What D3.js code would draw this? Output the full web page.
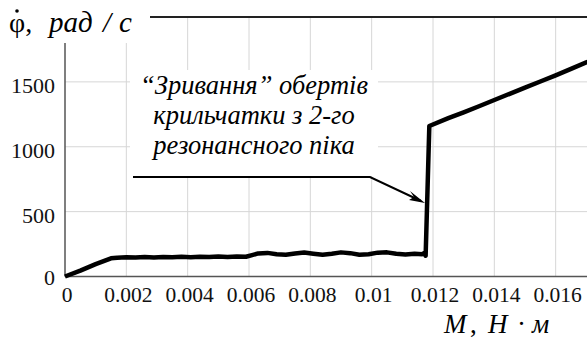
<!DOCTYPE html>
<html>
<head>
<meta charset="utf-8">
<script src="https://cdn.jsdelivr.net/npm/d3@7"></script>
</head>
<body style="margin:0">
<div id="chart"></div>
<script>
// Data
var torque = [0, 0.0005, 0.001, 0.0015, 0.0017, 0.002, 0.0023, 0.0026, 0.0029, 0.0032,
  0.0035, 0.0038, 0.0041, 0.0044, 0.0047, 0.005, 0.0053, 0.0056, 0.0059, 0.0061,
  0.0063, 0.0066, 0.0069, 0.0072, 0.0075, 0.0078, 0.0081, 0.0084, 0.0087, 0.009,
  0.0093, 0.0096, 0.0099, 0.0102, 0.0105, 0.0108, 0.0111, 0.0114, 0.01165, 0.01172,
  0.01176, 0.01188, 0.0125, 0.013, 0.0135, 0.014, 0.0145, 0.015, 0.0155, 0.016,
  0.0165, 0.017, 0.0172];
var speed = [0, 45, 95, 140, 145, 148, 146, 150, 147, 151,
  148, 152, 149, 153, 150, 154, 151, 155, 152, 165,
  178, 182, 172, 168, 178, 185, 176, 168, 176, 186,
  180, 168, 172, 184, 186, 175, 170, 176, 172, 182,
  160, 1160, 1220, 1265, 1312, 1360, 1408, 1455, 1503, 1550,
  1600, 1650, 1668];

var xTicks = [0, 0.002, 0.004, 0.006, 0.008, 0.01, 0.012, 0.014, 0.016];
var xTickLabels = ["0", "0.002", "0.004", "0.006", "0.008", "0.01", "0.012", "0.014", "0.016"];
var yTicks = [0, 500, 1000, 1500];
var yTickLabels = ["0", "500", "1000", "1500"];
var noteLines = ["“Зривання” обертів", "крильчатки з 2-го", "резонансного піка"];

var width = 587;
var height = 350;
var serifFont = "'Liberation Serif'";

var svg = d3
  .select("#chart")
  .append("svg")
  .attr("width", width)
  .attr("height", height)
  .style("display", "block");

// Plot runs off the right edge of the picture
var xScale = d3.scaleLinear().domain([0, 0.018]).range([65, 617]);
var yScale = d3.scaleLinear().domain([0, 2000]).range([276.5, 17]);

// Grid lines
svg.append("g")
  .selectAll("line")
  .data(xTicks.slice(1))
  .enter()
  .append("line")
  .attr("x1", function(d) { return xScale(d); })
  .attr("x2", function(d) { return xScale(d); })
  .attr("y1", yScale(2000))
  .attr("y2", yScale(0))
  .attr("stroke", "#d6d6d6")
  .attr("stroke-width", 1);

svg.append("g")
  .selectAll("line")
  .data(yTicks.slice(1))
  .enter()
  .append("line")
  .attr("x1", xScale(0))
  .attr("x2", width)
  .attr("y1", function(d) { return yScale(d); })
  .attr("y2", function(d) { return yScale(d); })
  .attr("stroke", "#d6d6d6")
  .attr("stroke-width", 1);

// Frame top
svg.append("line")
  .attr("x1", xScale(0)).attr("x2", width)
  .attr("y1", yScale(2000)).attr("y2", yScale(2000))
  .attr("stroke", "#222").attr("stroke-width", 2);

// Tick labels (drawn from the scales, no tick marks)
svg.append("g")
  .selectAll("text")
  .data(xTicks)
  .enter()
  .append("text")
  .attr("x", function(d) { return xScale(d) + 2; })
  .attr("y", 302)
  .attr("text-anchor", "middle")
  .attr("font-size", 21.5)
  .attr("fill", "#111")
  .style("font-family", serifFont)
  .text(function(d, i) { return xTickLabels[i]; });

svg.append("g")
  .selectAll("text")
  .data(yTicks)
  .enter()
  .append("text")
  .attr("x", xScale(0) - 10)
  .attr("y", function(d) { return yScale(d) + (d === 0 ? 8.5 : 11); })
  .attr("text-anchor", "end")
  .attr("font-size", 22)
  .attr("fill", "#111")
  .style("font-family", serifFont)
  .text(function(d, i) { return yTickLabels[i]; });

// Axis lines
svg.append("line")
  .attr("x1", xScale(0)).attr("x2", width)
  .attr("y1", yScale(0)).attr("y2", yScale(0))
  .attr("stroke", "#555").attr("stroke-width", 1.5);
svg.append("line")
  .attr("x1", xScale(0)).attr("x2", xScale(0))
  .attr("y1", yScale(2000)).attr("y2", yScale(0))
  .attr("stroke", "#555").attr("stroke-width", 1.5);

// The curve
var line = d3.line()
  .x(function(d, i) { return xScale(torque[i]); })
  .y(function(d) { return yScale(d); });

svg.append("path")
  .datum(speed)
  .attr("d", line)
  .attr("fill", "none")
  .attr("stroke", "#000")
  .attr("stroke-width", 4.5)
  .attr("stroke-linejoin", "round");

// Annotation box with text
svg.append("rect")
  .attr("x", 130).attr("y", 70)
  .attr("width", 248).attr("height", 106)
  .attr("fill", "#fff");

svg.append("g")
  .selectAll("text")
  .data(noteLines)
  .enter()
  .append("text")
  .attr("x", 254)
  .attr("y", function(d, i) { return 94 + i * 30; })
  .attr("text-anchor", "middle")
  .attr("font-size", 26.5)
  .attr("font-style", "italic")
  .style("font-family", serifFont)
  .text(function(d) { return d; });

// Leader line and arrow
svg.append("path")
  .attr("d", "M133,177 L370,177 L421,201")
  .attr("fill", "none")
  .attr("stroke", "#000")
  .attr("stroke-width", 2);
svg.append("path")
  .attr("d", "M425,203 L410,191 L414,197 L409,200 Z")
  .attr("fill", "#000");

// Y label with white backing
svg.append("rect")
  .attr("x", 0).attr("y", 0)
  .attr("width", 150).attr("height", 43)
  .attr("fill", "#fff");

svg.append("text")
  .attr("x", 9).attr("y", 32)
  .attr("font-size", 28)
  .style("font-family", serifFont)
  .text("φ,");
svg.append("text")
  .attr("x", 49).attr("y", 32)
  .attr("font-size", 29)
  .attr("font-style", "italic")
  .style("font-family", serifFont)
  .text("рад");
svg.append("text")
  .attr("x", 103).attr("y", 32)
  .attr("font-size", 29)
  .attr("font-style", "italic")
  .style("font-family", serifFont)
  .text("/");
svg.append("text")
  .attr("x", 119).attr("y", 32)
  .attr("font-size", 29)
  .attr("font-style", "italic")
  .style("font-family", serifFont)
  .text("с");
// dot over phi (time derivative)
svg.append("circle")
  .attr("cx", 17).attr("cy", 11).attr("r", 1.8)
  .attr("fill", "#000");

// X label, pieces placed as in the picture
var xLabParts = [
  { t: "M", x: 444, it: true },
  { t: ",", x: 470, it: false },
  { t: "H", x: 488, it: true },
  { t: "·", x: 517, it: false },
  { t: "м", x: 532, it: true }
];
svg.append("g")
  .selectAll("text")
  .data(xLabParts)
  .enter()
  .append("text")
  .attr("x", function(d) { return d.x; })
  .attr("y", 333)
  .attr("font-size", 27)
  .attr("font-style", function(d) { return d.it ? "italic" : "normal"; })
  .style("font-family", serifFont)
  .text(function(d) { return d.t; });
</script>
</body>
</html>
